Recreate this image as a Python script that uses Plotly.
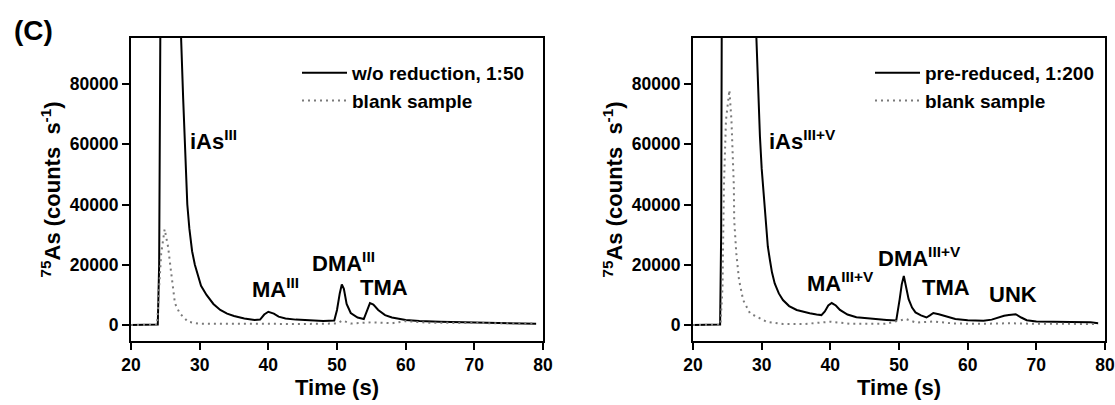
import plotly.graph_objects as go

# ---------------- data ----------------
# Left panel: w/o reduction, 1:50
left_t = [20, 23.9, 24.1, 24.3, 25.5, 27.0, 27.3, 27.6, 27.9, 28.2, 28.5, 28.9, 29.3, 29.7, 30.2, 31,
          31.5, 32, 32.5, 33, 34, 35, 36.5, 38, 38.8, 39.4, 40, 40.8, 41.5, 42.5, 44, 46, 48, 49.6,
          50.0, 50.4, 50.7, 51.0, 51.4, 52, 53, 53.9, 54.3, 54.8, 55.3, 56, 57, 58, 60, 62, 65, 68,
          72, 76, 79]
left_y = [0, 200, 20000, 110000, 300000, 130000, 95000, 75000, 58000, 40000, 32000, 24500, 20000,
          16500, 13000, 10000, 8300, 7000, 6000, 5000, 3800, 3000, 2200, 1700, 1800, 3500, 4400, 3800,
          2800, 2200, 1800, 1500, 1300, 1500, 5000, 10500, 13500, 12000, 7000, 4000, 2500, 2000, 4500,
          7300, 6800, 5000, 3300, 2500, 1700, 1300, 1100, 900, 700, 550, 400]
blank_l_t = [20, 23.8, 24.1, 24.4, 24.9, 25.4, 25.8, 26.4, 27.1, 28.3, 30, 35, 40, 45, 50, 50.8, 52,
             55, 58, 60, 63, 68, 74, 79]
blank_l_y = [0, 0, 12700, 23800, 31800, 26000, 18300, 7200, 3900, 1100, 400, 300, 400, 350, 500, 1500,
             500, 900, 600, 1300, 800, 700, 600, 500]

# Right panel: pre-reduced, 1:200
right_t = [20, 23.95, 24.1, 24.2, 26, 29.0, 29.2, 29.5, 29.75, 30.0, 30.2, 30.6, 30.9, 31.2, 31.5, 31.9,
           32.5, 33.1, 34.0, 35.1, 36, 37.0, 38.0, 38.7, 39.2, 39.7, 40.2, 40.8, 41.4, 42.5, 43.8, 45.2,
           47, 48.2, 49.6, 50.1, 50.4, 50.7, 51.0, 51.4, 51.9, 52.4, 53.2, 54, 54.5, 55, 55.8, 56.6,
           58.2, 60, 62.3, 63.5, 64.4, 65.3, 66, 67, 67.8, 68.6, 70, 72.7, 75, 77.9, 79]
right_y = [0, 200, 30000, 110000, 300000, 110000, 95000, 75000, 62500, 52000, 45900, 32600, 26000,
           21600, 17500, 13800, 10500, 8300, 6300, 5000, 4400, 3900, 3500, 3300, 4500, 6500, 7300, 6500,
           5000, 3500, 2600, 2200, 1900, 1700, 1500, 8600, 13500, 16300, 13000, 8600, 5800, 4200, 3200,
           2500, 3200, 4000, 3600, 3100, 2000, 1600, 1400, 1800, 2500, 3100, 3300, 3600, 2500, 1600,
           1200, 1200, 1000, 900, 600]
blank_r_t = [20, 24.0, 24.3, 24.5, 24.8, 25.3, 25.6, 25.8, 25.95, 26.0, 26.3, 26.7, 27.3, 28.3, 30.7,
             33.1, 36, 40, 43, 48, 51, 52.5, 55, 58, 62, 66, 70, 75, 79]
blank_r_y = [0, 0, 12700, 46000, 68000, 78000, 68000, 57000, 46000, 34900, 24000, 15000, 8300, 3900,
             1100, 330, 300, 1100, 400, 400, 2000, 800, 1200, 500, 400, 600, 400, 400, 300]

x_ticks = [20, 30, 40, 50, 60, 70, 80]
y_ticks = [0, 20000, 40000, 60000, 80000]
y_tick_text = ["0", "20000", "40000", "60000", "80000"]

left_labels = [("iAs<sup>III</sup>", 32.0, 61400), ("MA<sup>III</sup>", 41.0, 12300),
               ("DMA<sup>III</sup>", 51.0, 21000), ("TMA", 56.8, 12300)]
right_labels = [("iAs<sup>III+V</sup>", 35.9, 61400), ("MA<sup>III+V</sup>", 41.5, 14300),
                ("DMA<sup>III+V</sup>", 53.0, 22600), ("TMA", 56.9, 12300), ("UNK", 66.6, 10000)]

# ---------------- figure ----------------
W, H = 1115, 405
FONT = "Liberation Sans"
fig = go.Figure()

solid = dict(color="black", width=2)
dotted = dict(color="#7a7a7a", width=2, dash="2px,4px")

fig.add_trace(go.Scatter(x=left_t, y=left_y, mode="lines", line=solid,
                         name="w/o reduction, 1:50", xaxis="x", yaxis="y", legend="legend"))
fig.add_trace(go.Scatter(x=blank_l_t, y=blank_l_y, mode="lines", line=dotted,
                         name="blank sample", xaxis="x", yaxis="y", legend="legend"))
fig.add_trace(go.Scatter(x=right_t, y=right_y, mode="lines", line=solid,
                         name="pre-reduced, 1:200", xaxis="x2", yaxis="y2", legend="legend2"))
fig.add_trace(go.Scatter(x=blank_r_t, y=blank_r_y, mode="lines", line=dotted,
                         name="blank sample", xaxis="x2", yaxis="y2", legend="legend2"))

ydom = [1 - 341 / H, 1 - 38 / H]
xdom1 = [131 / W, 543 / W]
xdom2 = [693 / W, 1105 / W]

tickfont = dict(family=FONT, size=17.5, color="black", weight="bold")
titlefont = dict(family=FONT, size=22, color="black", weight="bold")

def xaxis(dom, anchor):
    return dict(domain=dom, anchor=anchor, range=[20, 80], tickvals=x_ticks,
                ticks="outside", ticklen=7, tickwidth=2, tickcolor="black",
                showline=True, linecolor="black", linewidth=2, mirror=True,
                showgrid=False, zeroline=False, tickfont=tickfont, automargin=False,
                title=dict(text="Time (s)", font=titlefont, standoff=5))

def yaxis(anchor):
    return dict(domain=ydom, anchor=anchor, range=[-5300, 95300], tickvals=y_ticks,
                ticktext=y_tick_text,
                ticks="outside", ticklen=7, tickwidth=2, tickcolor="black",
                showline=True, linecolor="black", linewidth=2, mirror=True,
                showgrid=False, zeroline=False, tickfont=tickfont, automargin=False,
                title=dict(text="<sup>75</sup>As (counts  s<sup>-1</sup>)", font=titlefont, standoff=3))

legfont = dict(family=FONT, size=19, color="black", weight="bold")
fig.update_layout(
    width=W, height=H, margin=dict(l=0, r=0, t=0, b=0, autoexpand=False),
    paper_bgcolor="white", plot_bgcolor="white",
    xaxis=xaxis(xdom1, "y"), yaxis=yaxis("x"),
    xaxis2=xaxis(xdom2, "y2"), yaxis2=yaxis("x2"),
    legend=dict(x=297 / W, y=1 - 54 / H, xanchor="left", yanchor="top", font=legfont,
                bgcolor="rgba(0,0,0,0)", itemwidth=45),
    legend2=dict(x=870 / W, y=1 - 54 / H, xanchor="left", yanchor="top", font=legfont,
                 bgcolor="rgba(0,0,0,0)", itemwidth=45),
    showlegend=True,
)

annfont = dict(family=FONT, size=22, color="black", weight="bold")
for txt, xv, yv in left_labels:
    fig.add_annotation(text=txt, x=xv, y=yv, xref="x", yref="y", showarrow=False, font=annfont)
for txt, xv, yv in right_labels:
    fig.add_annotation(text=txt, x=xv, y=yv, xref="x2", yref="y2", showarrow=False, font=annfont)
fig.add_annotation(text="(C)", x=12 / W, y=1 - 31 / H, xref="paper", yref="paper",
                   xanchor="left", yanchor="middle", showarrow=False,
                   font=dict(family=FONT, size=28, color="black", weight="bold"))

fig.write_html("out.html", config={"displayModeBar": False},
               post_script="document.body.style.margin='0';")
